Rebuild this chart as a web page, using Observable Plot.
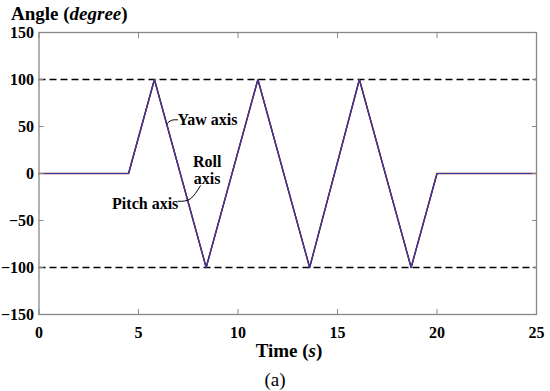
<!DOCTYPE html>
<html><head><meta charset="utf-8">
<script src="https://cdn.jsdelivr.net/npm/d3@7"></script>
<script src="https://cdn.jsdelivr.net/npm/@observablehq/plot@0.6"></script>
<style>body{margin:0;background:#fff} #chart{width:550px;height:391px}</style>
</head><body><div id="chart"></div>
<script>
// Data
const time  = [0, 4.5, 5.8, 8.4, 11.0, 13.6, 16.1, 18.7, 20.0, 25];
const yaw   = [0, 0, 100, -100, 100, -100, 100, -100, 0, 0];
const roll  = [0, 0, 100, -100, 100, -100, 100, -100, 0, 0];
const pitch = [0, 0, 100, -100, 100, -100, 100, -100, 0, 0];
const limits = [100, -100];
const xTicks = [0, 5, 10, 15, 20, 25];
const yTicks = [-150, -100, -50, 0, 50, 100, 150];
const labelNames = ["Yaw axis", "Roll\naxis", "Pitch axis"];
const labelX = [6.96, 8.45, 7.0];
const labelY = [57, 4, -32];
const labelAnchor = ["start", "middle", "end"];
const leaderYaw = [[6.41, 52.6], [6.65, 56.5], [6.96, 57.1]];
const leaderPitch = [[7.0, -29.5], [7.6, -27], [8.11, -13.1]];

const font = "'Liberation Serif', 'DejaVu Serif', serif";
const rows = (name, vals) => time.map((t, i) => ({series: name, t, v: vals[i]}));
const labels = labelNames.map((s, i) => ({s, x: labelX[i], y: labelY[i], a: labelAnchor[i]}));

const plot = Plot.plot({
  width: 550, height: 391,
  marginLeft: 38.5, marginRight: 14, marginTop: 32, marginBottom: 77,
  x: {domain: [0, 25], ticks: xTicks},
  y: {domain: [-150, 150], ticks: yTicks},
  style: {fontFamily: font, fontSize: "16px", fontWeight: "bold", color: "#000", background: "#fff"},
  marks: [
    Plot.ruleY(limits, {stroke: "#000", strokeWidth: 1.5, strokeDasharray: "7,4"}),
    Plot.line(rows("Yaw", yaw), {x: "t", y: "v", stroke: "#8b1a1a", strokeWidth: 1.5}),
    Plot.line(rows("Roll", roll), {x: "t", y: "v", stroke: "#5a2060", strokeWidth: 1.2}),
    Plot.line(rows("Pitch", pitch), {x: "t", y: "v", stroke: "#3b3b9c", strokeWidth: 1.1}),
    Plot.frame({stroke: "#888", strokeWidth: 1.3}),
    Plot.axisX(xTicks, {anchor: "bottom", tickSize: -5, tickPadding: 17, stroke: "#888", label: null, fontSize: 16}),
    Plot.axisX(xTicks, {anchor: "top", tickSize: -5, tickFormat: () => "", stroke: "#888", label: null}),
    Plot.axisY(yTicks, {anchor: "left", tickSize: -5, tickPadding: 10, stroke: "#888", label: null, fontSize: 16}),
    Plot.axisY(yTicks, {anchor: "right", tickSize: -5, tickFormat: () => "", stroke: "#888", label: null}),
    Plot.line(leaderYaw, {x: d => d[0], y: d => d[1], curve: "natural", stroke: "#000", strokeWidth: 1}),
    Plot.line(leaderPitch, {x: d => d[0], y: d => d[1], curve: "natural", stroke: "#000", strokeWidth: 1}),
    Plot.text(labels, {x: "x", y: "y", text: "s", textAnchor: "start", filter: d => d.a === "start", fontSize: 16, fontWeight: "bold", fill: "#000"}),
    Plot.text(labels, {x: "x", y: "y", text: "s", textAnchor: "middle", filter: d => d.a === "middle", fontSize: 16, fontWeight: "bold", fill: "#000", lineHeight: 1.05}),
    Plot.text(labels, {x: "x", y: "y", text: "s", textAnchor: "end", filter: d => d.a === "end", fontSize: 16, fontWeight: "bold", fill: "#000"})
  ]
});
document.getElementById("chart").appendChild(plot);

const svg = d3.select(plot);
const t1 = svg.append("text").attr("x", 11).attr("y", 19.5).attr("text-anchor", "start")
  .attr("font-family", font).attr("font-size", 19).attr("font-weight", "bold").attr("fill", "#000");
t1.append("tspan").text("Angle (");
t1.append("tspan").attr("font-style", "italic").text("degree");
t1.append("tspan").text(")");
const t2 = svg.append("text").attr("x", 289).attr("y", 357).attr("text-anchor", "middle")
  .attr("font-family", font).attr("font-size", 19).attr("font-weight", "bold").attr("fill", "#000");
t2.append("tspan").text("Time (");
t2.append("tspan").attr("font-style", "italic").text("s");
t2.append("tspan").text(")");
svg.append("text").attr("x", 275).attr("y", 386).attr("text-anchor", "middle")
  .attr("font-family", font).attr("font-size", 19).attr("font-weight", "normal").attr("fill", "#000").text("(a)");
</script></body></html>
